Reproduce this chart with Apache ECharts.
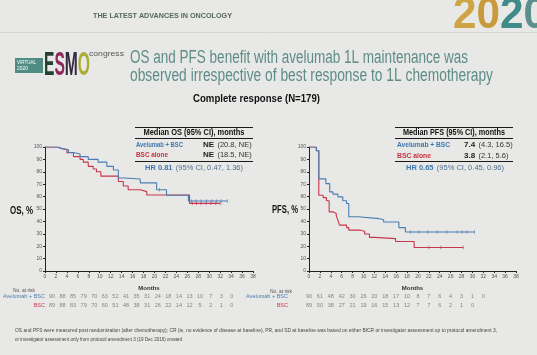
<!DOCTYPE html>
<html><head><meta charset="utf-8">
<script src="https://cdn.jsdelivr.net/npm/echarts@6/dist/echarts.min.js"></script>
<style>html,body{margin:0;padding:0;background:#e8e8e6;overflow:hidden}#c{width:537px;height:355px}</style>
</head><body><div id="c"></div>
<script>
// ---------- DATA ----------
const xTickLabels = [0,2,4,6,8,10,12,14,16,18,20,22,24,26,28,30,32,34,36,38];
const yTickLabels = [0,10,20,30,40,50,60,70,80,90,100];
const riskRows = ['Avelumab + BSC', 'BSC'];

// Kaplan-Meier step points [month, survival %]
const osAvelumab = [[0,100],[2.1,98.9],[3.0,97.8],[4.3,95.6],[5.2,94.4],[6.4,92.2],[7.9,90],[9.7,87.8],[11.3,84.4],[12.5,81.5],[13.4,75],[14.5,74.2],[17.4,71.1],[20.4,65.5],[22.2,61.1],[26.2,56.5],[33.3,56.5]];
const osBsc = [[0,100],[2.4,98.9],[3.0,97.8],[4.0,95.5],[5.2,92.2],[6.4,90],[7.0,87.8],[7.9,84.4],[8.8,82.2],[9.4,80],[10.2,76.5],[13.4,72.2],[14.3,68.5],[15.2,65.5],[17.4,64],[18.6,61.3],[26.4,54.5],[32.0,54.5]];
const pfsAvelumab = [[0,100],[1.35,97],[1.8,74.3],[3.1,70.5],[3.8,63.8],[4.4,62],[5.3,59.8],[6.2,56.6],[6.9,54.4],[7.3,43.7],[9.0,42.2],[12.9,41.4],[13.7,39.5],[16.5,35],[17.7,31.5],[30.4,31.5]];
const pfsBsc = [[0,100],[1.35,97],[1.8,61.1],[2.6,59.2],[3.2,56.6],[3.7,47.7],[4.4,46.4],[5.0,44.5],[5.3,41],[5.6,37],[6.9,35],[7.3,33],[9.3,32],[10.2,29.8],[11.1,27.1],[12.0,26.1],[15.9,23.8],[19.3,18.9],[28.3,18.9]];

// censoring times (months)
const osAvelumabCensor = [20.9, 26.8, 27.6, 28.5, 29.5, 30.5, 31.3, 32.2, 33.3];
const osBscCensor = [26.9, 27.7, 28.5, 29.4, 30.3, 31.2, 32.0];
const pfsAvelumabCensor = [18.6, 20.2, 21.8, 23.5, 25.3, 27.2, 28.1, 29.0, 30.4];
const pfsBscCensor = [22.0, 24.2, 28.3];

// numbers at risk
const riskMonths = [0,2,4,6,8,10,12,14,16,18,20,22,24,26,28,30,32,34];
const osRiskAvelumab = [90,88,85,79,70,63,52,41,35,31,24,18,14,13,10,7,3,0];
const osRiskBsc = [89,88,83,79,70,60,51,48,38,31,26,22,14,12,5,2,1,0];
const pfsRiskAvelumab = [90,61,48,42,30,26,20,18,17,10,8,7,6,4,3,1,0];
const pfsRiskBsc = [89,50,38,27,21,19,16,15,13,12,7,7,6,2,1,0];

// ---------- STYLE ----------
const FF = 'Liberation Sans, Arial, sans-serif';
const BLUE = '#4a7db3', RED = '#c8364c';
const ctx = document.createElement('canvas').getContext('2d');
function fit(text, font, w){ ctx.font = font; return w / ctx.measureText(text).width; }
function yAt(curve, t){ let v = curve[0][1]; for (const p of curve){ if (p[0] <= t) v = p[1]; } return v; }

function txt(text, x, y, size, opts){
  opts = opts || {};
  const font = (opts.bold ? 'bold ' : '') + size + 'px ' + FF;
  const s = opts.w ? fit(text, font, opts.w) : 1;
  let ox = x;
  if (opts.align === 'center' && opts.w) ox = x - opts.w/2;
  return {type:'text', x: ox, y: y, scaleX: s, z: 10,
    style:{text:text, font:font, fill: opts.color || '#222', align:'left', verticalAlign:'middle'}};
}
function rich(text, x, y, richDef, align, scaleX){
  return {type:'text', x:x, y:y, z:10, scaleX: scaleX || 1, style:{text:text, rich:richDef, align: align||'left', verticalAlign:'middle', fontFamily:FF}};
}
function hline(x1, x2, y, color, w){
  return {type:'line', z:5, shape:{x1:x1, y1:y, x2:x2, y2:y}, style:{stroke: color || '#1a1a1a', lineWidth: w || 1}};
}

const baseX = (gi) => ({type:'value', gridIndex:gi, min:0, max:38, interval:2,
  axisLine:{show:true, onZero:false, lineStyle:{color:'#222', width:1}},
  axisTick:{show:true, length:2, lineStyle:{color:'#222'}},
  axisLabel:{fontSize:5, color:'#555', margin:3, formatter: v => xTickLabels.includes(v) ? String(v) : ''},
  splitLine:{show:false},
  name:'Months', nameLocation:'middle', nameGap:14,
  nameTextStyle:{fontSize:6, fontWeight:'bold', color:'#333'}});
const baseY = (gi) => ({type:'value', gridIndex:gi, min:0, max:100, interval:10,
  axisLine:{show:true, lineStyle:{color:'#222', width:1}},
  axisTick:{show:true, length:2, lineStyle:{color:'#222'}},
  axisLabel:{fontSize:5, color:'#555', margin:3, formatter: v => yTickLabels.includes(v) ? String(v) : ''},
  splitLine:{show:false}});
const riskX = (gi) => ({type:'value', gridIndex:gi, min:0, max:38, show:false});
const riskY = (gi, margin) => ({type:'category', gridIndex:gi, data:riskRows, inverse:true,
  axisLine:{show:false}, axisTick:{show:false},
  axisLabel:{margin:margin, interval:0, hideOverlap:false,
    formatter: v => v === 'BSC' ? '{r|' + v + '}' : '{b|' + v + '}',
    rich:{b:{color:BLUE, fontSize:5.5}, r:{color:RED, fontSize:5.5}}}});

function km(data, color, gi){
  return {type:'line', xAxisIndex:gi, yAxisIndex:gi, data:data, step:'end', symbol:'none',
    lineStyle:{color:color, width:1.1}, silent:true, z:3};
}
function censor(times, curve, color, gi){
  return {type:'scatter', xAxisIndex:gi, yAxisIndex:gi, data: times.map(t => [t, yAt(curve, t)]),
    symbol:'rect', symbolSize:[0.8, 3.5], itemStyle:{color:color}, silent:true, z:4};
}
function risk(values, row, gi){
  return {type:'scatter', xAxisIndex:gi, yAxisIndex:gi,
    data: values.map((v, i) => [riskMonths[i], row, v]),
    symbolSize:1, itemStyle:{color:'rgba(0,0,0,0)'}, silent:true,
    label:{show:true, position:'inside', formatter: p => String(p.value[2]), fontSize:5.5, color:'#6a6a6a'}};
}

const esmoScale = fit('ESMO', 'bold 33px ' + FF, 46);
const logoScale = fit('2020', 'bold 44px ' + FF, 94);

const chart = echarts.init(document.getElementById('c'), null, {renderer:'canvas'});
const option = {
  backgroundColor:'#e8e8e6',
  animation:false,
  textStyle:{fontFamily:FF},
  grid:[
    {left:45, top:147, width:208, height:124},
    {left:309, top:147, width:207, height:124},
    {left:45, top:292.5, width:208, height:17},
    {left:309, top:292.5, width:207, height:17}
  ],
  xAxis:[baseX(0), baseX(1), riskX(2), riskX(3)],
  yAxis:[baseY(0), baseY(1), riskY(2, 7), riskY(3, 21)],
  series:[
    km(osBsc, RED, 0), km(osAvelumab, BLUE, 0),
    censor(osBscCensor, osBsc, RED, 0), censor(osAvelumabCensor, osAvelumab, BLUE, 0),
    km(pfsBsc, RED, 1), km(pfsAvelumab, BLUE, 1),
    censor(pfsBscCensor, pfsBsc, RED, 1), censor(pfsAvelumabCensor, pfsAvelumab, BLUE, 1),
    risk(osRiskAvelumab, riskRows[0], 2), risk(osRiskBsc, riskRows[1], 2),
    risk(pfsRiskAvelumab, riskRows[0], 3), risk(pfsRiskBsc, riskRows[1], 3)
  ],
  graphic:{elements:[
    // header
    hline(0, 537, 32.5, '#d3d3d1', 1),
    txt('THE LATEST ADVANCES IN ONCOLOGY', 93, 16, 8, {bold:true, color:'#56675f', w:139}),
    rich('{a|2}{b|0}{c|2}{d|0}', 453, 16, {
      a:{fontSize:44, fontWeight:'bold', fill:'#cfa444'},
      b:{fontSize:44, fontWeight:'bold', fill:'#c99a3c'},
      c:{fontSize:44, fontWeight:'bold', fill:'#3f8b8a'},
      d:{fontSize:44, fontWeight:'bold', fill:'#5d8f8c'}}, 'left', logoScale),
    // ESMO logo
    {type:'rect', shape:{x:15, y:58, width:28, height:15}, style:{fill:'#4f8c84'}},
    txt('VIRTUAL', 17, 62.5, 5, {color:'#ffffff', w:19}),
    txt('2020', 17, 68.5, 5, {color:'#ffffff', w:11}),
    rich('{e|E}{s|S}{m|M}{o|O}', 44, 66, {
      e:{fontSize:33, fontWeight:'bold', fill:'#23412f'},
      s:{fontSize:33, fontWeight:'bold', fill:'#8b2b5c'},
      m:{fontSize:33, fontWeight:'bold', fill:'#33293f'},
      o:{fontSize:33, fontWeight:'bold', fill:'#a9ad34'}}, 'left', esmoScale),
    txt('congress', 89, 54, 8, {color:'#555', w:35}),
    // title
    txt('OS and PFS benefit with avelumab 1L maintenance was', 130, 58, 18, {color:'#5e8d88', w:338}),
    txt('observed irrespective of best response to 1L chemotherapy', 130, 76, 18, {color:'#5e8d88', w:363}),
    txt('Complete response (N=179)', 256.5, 99.5, 10, {bold:true, color:'#111', w:127, align:'center'}),
    // left table
    hline(135, 253, 127.5),
    txt('Median OS (95% CI), months', 194, 133, 8.5, {bold:true, color:'#111', w:101, align:'center'}),
    hline(135, 253, 138.5),
    txt('Avelumab + BSC', 136, 145, 8, {bold:true, color:'#3d78b0', w:47}),
    rich('{b|NE} {n|(20.8, NE)}', 203, 145, {b:{fontSize:8, fontWeight:'bold', fill:'#222'}, n:{fontSize:7.5, fill:'#333'}}),
    txt('BSC alone', 136, 155, 8, {bold:true, color:'#c8323f', w:32}),
    rich('{b|NE} {n|(18.5, NE)}', 203, 155, {b:{fontSize:8, fontWeight:'bold', fill:'#222'}, n:{fontSize:7.5, fill:'#333'}}),
    hline(135, 253, 161.5),
    rich('{b|HR 0.81} {n|(95% CI, 0.47, 1.36)}', 194, 168, {b:{fontSize:7.5, fontWeight:'bold', fill:'#3d78b0'}, n:{fontSize:7.5, fill:'#4d6f95'}}, 'center'),
    // right table
    hline(395, 513, 127.5),
    txt('Median PFS (95% CI), months', 454, 133, 8.5, {bold:true, color:'#111', w:102, align:'center'}),
    hline(395, 513, 138.5),
    txt('Avelumab + BSC', 397, 145, 8, {bold:true, color:'#3d78b0', w:53}),
    rich('{b|7.4} {n|(4.3, 16.5)}', 464, 145, {b:{fontSize:8, fontWeight:'bold', fill:'#222'}, n:{fontSize:7.5, fill:'#333'}}),
    txt('BSC alone', 397, 156, 8, {bold:true, color:'#c8323f', w:34}),
    rich('{b|3.8} {n|(2.1, 5.6)}', 464, 156, {b:{fontSize:8, fontWeight:'bold', fill:'#222'}, n:{fontSize:7.5, fill:'#333'}}),
    hline(395, 513, 161.5),
    rich('{b|HR 0.65} {n|(95% CI, 0.45, 0.96)}', 455, 167.5, {b:{fontSize:7.5, fontWeight:'bold', fill:'#3d78b0'}, n:{fontSize:7.5, fill:'#4d6f95'}}, 'center'),
    // axis titles
    txt('OS, %', 10, 211, 11, {bold:true, color:'#111', w:23}),
    txt('PFS, %', 272, 210, 11, {bold:true, color:'#111', w:26}),
    // no. at risk
    txt('No. at risk', 13, 290.5, 5.5, {color:'#555', w:22}),
    txt('No. at risk', 270, 291, 5.5, {color:'#555', w:22}),
    // footnote
    txt('OS and PFS were measured post randomization (after chemotherapy); CR (ie, no evidence of disease at baseline), PR, and SD at baseline was based on either BICR or investigator assessment up to protocol amendment 3,', 15, 331, 5, {color:'#444', w:482}),
    txt('or investigator assessment only from protocol amendment 3 (19 Dec 2016) onward', 15, 339.5, 5, {color:'#444', w:167})
  ]}
};
chart.setOption(option);
</script>
</body></html>
